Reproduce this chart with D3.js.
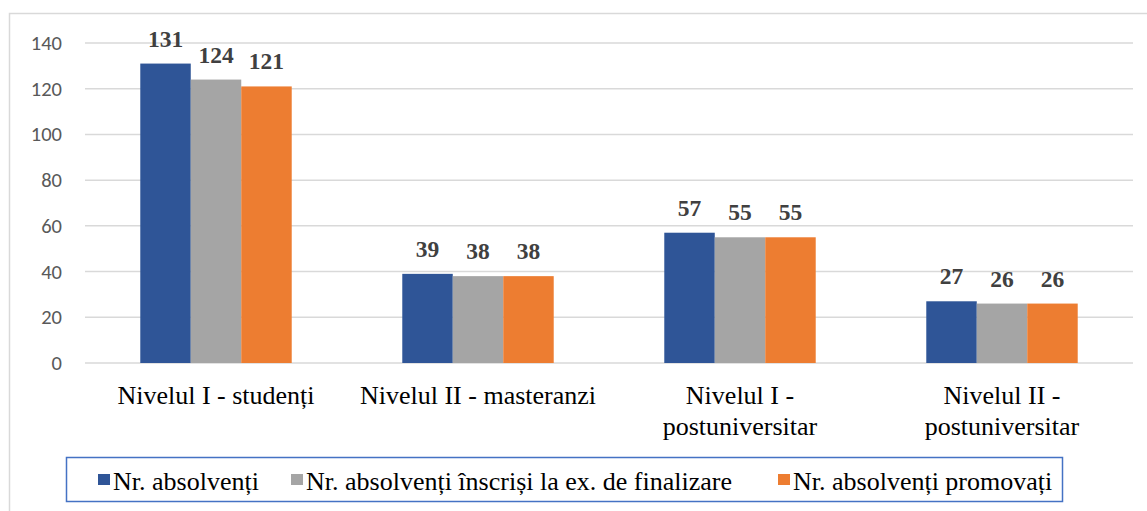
<!DOCTYPE html>
<html>
<head>
<meta charset="utf-8">
<script src="https://cdn.jsdelivr.net/npm/d3@7"></script>
<style>
  body { margin: 0; background: #fff; }
</style>
</head>
<body>
<svg id="drawing_region"></svg>
<script>
const categories = [
    ["Nivelul I - studenți"],
    ["Nivelul II - masteranzi"],
    ["Nivelul I -", "postuniversitar"],
    ["Nivelul II -", "postuniversitar"]
];
const seriesNames = [
    "Nr. absolvenți",
    "Nr. absolvenți înscriși la ex. de finalizare",
    "Nr. absolvenți promovați"
];
const absolventi = [131, 39, 57, 27];
const inscrisi = [124, 38, 55, 26];
const promovati = [121, 38, 55, 26];
const yTicks = [0, 20, 40, 60, 80, 100, 120, 140];
const colors = ["#2F5597", "#A5A5A5", "#ED7D31"];

const width = 1147, height = 511;
const serif = '"Liberation Serif", "Times New Roman", serif';
const svg = d3.select('#drawing_region')
    .attr('width', width)
    .attr('height', height);

// chart border
svg.append('rect')
    .attr('x', 9.5).attr('y', 13.5)
    .attr('width', width).attr('height', height)
    .attr('fill', 'none')
    .attr('stroke', '#d9d9d9')
    .attr('stroke-width', 1.5);

const plot = { left: 85, right: 1133, top: 43, bottom: 363 };

const keys = categories.map((c, i) => i);
const xscale = d3.scaleBand()
    .domain(keys)
    .range([plot.left, plot.right])
    .paddingInner(0)
    .paddingOuter(0);

const inner = d3.scaleBand()
    .domain([0, 1, 2])
    .range([0, xscale.bandwidth() * 0.578])
    .padding(0);

const yscale = d3.scaleLinear()
    .domain([0, 140])
    .range([plot.bottom, plot.top]);

// gridlines
svg.append('g')
    .selectAll('line')
    .data(yTicks)
    .join('line')
    .attr('x1', plot.left)
    .attr('x2', plot.right)
    .attr('y1', d => yscale(d))
    .attr('y2', d => yscale(d))
    .attr('stroke', '#d9d9d9')
    .attr('stroke-width', 1.5);

// y tick labels
svg.append('g')
    .selectAll('text')
    .data(yTicks)
    .join('text')
    .attr('x', 62)
    .attr('y', d => yscale(d) + 7)
    .attr('text-anchor', 'end')
    .attr('font-family', 'Carlito, "Liberation Sans", Arial, sans-serif')
    .attr('font-size', '20.5px')
    .attr('fill', '#595959')
    .text(d => d);

const series = [absolventi, inscrisi, promovati];
const bars = [];
series.forEach((vals, s) => {
    vals.forEach((v, i) => bars.push({ s: s, i: i, value: v }));
});

const groupOffset = (xscale.bandwidth() - inner.range()[1]) / 2;

svg.append('g')
    .selectAll('rect')
    .data(bars)
    .join('rect')
    .attr('x', d => xscale(d.i) + groupOffset + inner(d.s))
    .attr('y', d => yscale(d.value))
    .attr('width', inner.bandwidth())
    .attr('height', d => yscale(0) - yscale(d.value))
    .attr('fill', d => colors[d.s]);

// value labels
svg.append('g')
    .selectAll('text')
    .data(bars)
    .join('text')
    .attr('x', d => xscale(d.i) + groupOffset + inner(d.s) + inner.bandwidth() / 2)
    .attr('y', d => yscale(d.value) - 17)
    .attr('text-anchor', 'middle')
    .attr('font-family', serif)
    .attr('font-weight', 'bold')
    .attr('font-size', '23.5px')
    .attr('fill', '#404040')
    .text(d => d.value);

// category labels
const cat = svg.append('g')
    .selectAll('text')
    .data(categories)
    .join('text')
    .attr('x', (d, i) => xscale(i) + xscale.bandwidth() / 2)
    .attr('y', 404)
    .attr('text-anchor', 'middle')
    .attr('font-family', serif)
    .attr('font-size', '26px')
    .attr('fill', '#000');
cat.selectAll('tspan')
    .data(d => d)
    .join('tspan')
    .attr('x', function () { return d3.select(this.parentNode).attr('x'); })
    .attr('dy', (d, j) => j === 0 ? 0 : 31)
    .text(d => d);

// legend
svg.append('rect')
    .attr('x', 66.5).attr('y', 457.5)
    .attr('width', 996).attr('height', 44)
    .attr('fill', '#fff')
    .attr('stroke', '#4472C4')
    .attr('stroke-width', 1.5);

const legendX = [98, 291, 778];
const legend = svg.append('g')
    .selectAll('g')
    .data(seriesNames)
    .join('g')
    .attr('transform', (d, i) => `translate(${legendX[i]}, 0)`);
legend.append('rect')
    .attr('x', 0).attr('y', 474)
    .attr('width', 12).attr('height', 11)
    .attr('fill', (d, i) => colors[i]);
legend.append('text')
    .attr('x', 15).attr('y', 490)
    .attr('font-family', serif)
    .attr('font-size', '26px')
    .attr('fill', '#000')
    .text(d => d);
</script>
</body>
</html>
